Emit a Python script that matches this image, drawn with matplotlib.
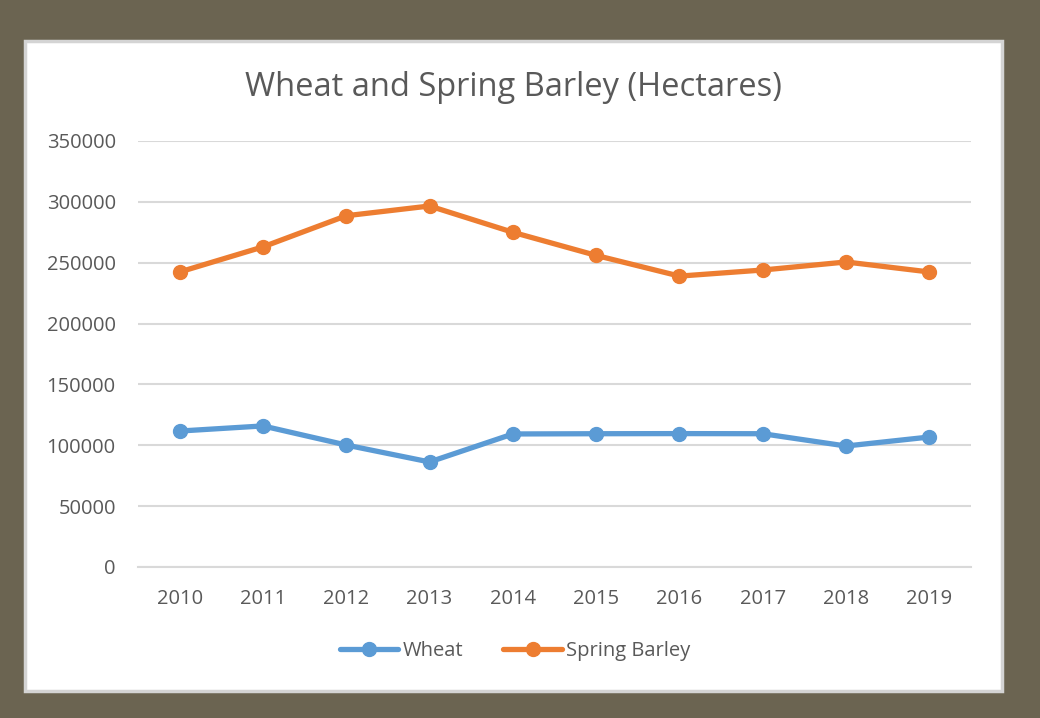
import matplotlib.pyplot as plt
from matplotlib.patches import Rectangle

# Data
years = [2010, 2011, 2012, 2013, 2014, 2015, 2016, 2017, 2018, 2019]
wheat = [111700, 115900, 100200, 86300, 109300, 109500, 109600, 109500, 99400, 106800]
spring_barley = [242400, 263000, 288600, 296600, 275000, 256000, 239000, 244000, 250600, 242400]
y_ticks = [0, 50000, 100000, 150000, 200000, 250000, 300000, 350000]

W, H = 1040, 718
plt.rcParams['font.family'] = ['Open Sans', 'DejaVu Sans']

fig = plt.figure(figsize=(W / 100, H / 100), dpi=100)
fig.patch.set_facecolor('#6b6451')

# white chart panel with thin light border
fig.patches.append(Rectangle((25 / W, 1 - 691 / H), 977 / W, 650 / H,
                             transform=fig.transFigure, facecolor='white',
                             edgecolor='#d4d4d4', linewidth=2.5, zorder=-5))

ax = fig.add_axes([138 / W, 1 - 567 / H, 833 / W, 426 / H])
ax.set_zorder(2)
ax.set_facecolor('none')

x = list(range(len(years)))
ax.plot(x, wheat, color='#5b9bd5', linewidth=3.8, marker='o', markersize=10,
        label='Wheat', solid_capstyle='round', zorder=3)
ax.plot(x, spring_barley, color='#ed7d31', linewidth=3.8, marker='o', markersize=10,
        label='Spring Barley', solid_capstyle='round', zorder=3)

ax.set_xlim(-0.5, len(years) - 0.5)
ax.set_ylim(0, 350000)
ax.set_yticks(y_ticks)
ax.set_yticklabels([str(v) for v in y_ticks])
ax.set_xticks(x)
ax.set_xticklabels([str(y) for y in years])

ax.grid(axis='y', color='#d9d9d9', linewidth=1.5, zorder=0)
for s in ['top', 'left', 'right']:
    ax.spines[s].set_visible(False)
ax.spines['bottom'].set_color('#d9d9d9')
ax.spines['bottom'].set_linewidth(1.5)
ax.tick_params(axis='both', length=0, labelsize=14.5, labelcolor='#595959')
ax.tick_params(axis='y', pad=16)
ax.tick_params(axis='x', pad=16)

fig.text(513 / W, 1 - 87 / H, 'Wheat and Spring Barley (Hectares)', ha='center', va='center',
         fontsize=23.5, color='#595959')

fig.legend(loc='center', bbox_to_anchor=(515 / W, 1 - 651 / H), ncol=2, frameon=False,
           fontsize=14.5, labelcolor='#595959', handlelength=2.9, handletextpad=0.2,
           columnspacing=2.0)

fig.savefig('out.png', dpi=100, facecolor=fig.get_facecolor())
